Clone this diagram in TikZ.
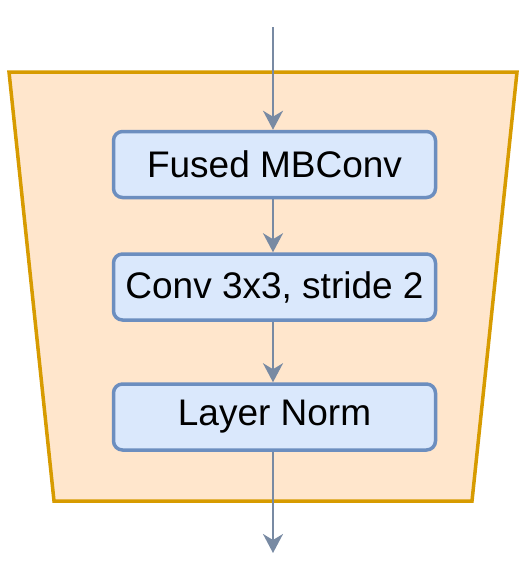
\documentclass[tikz,border=0pt]{standalone}
\usepackage{fontspec}
\setmainfont{Liberation Sans}
\usetikzlibrary{arrows.meta}
\definecolor{trapfill}{HTML}{FFE6CC}
\definecolor{trapline}{HTML}{D79B00}
\definecolor{boxfill}{HTML}{DAE8FC}
\definecolor{boxline}{HTML}{6C8EBF}
\definecolor{arrowc}{HTML}{788AA3}
\tikzset{
  blockbox/.style={draw=boxline, fill=boxfill, line width=3.5pt, rounded corners=9pt,
    minimum width=322pt, minimum height=66pt, inner sep=0pt,
    font=\fontsize{37}{42}\selectfont},
  flowarrow/.style={draw=arrowc, line width=2.2pt,
    -{Stealth[length=19pt, width=20pt, inset=6pt]}}
}
\begin{document}
\begin{tikzpicture}[x=1pt, y=-1pt]
\useasboundingbox (0,0) rectangle (521,562);
\draw[draw=trapline, fill=trapfill, line width=3.5pt, line join=miter]
  (9,72) -- (517,72) -- (472,501) -- (54,501) -- cycle;
\node[blockbox] (b1) at (274.5,164.5) {Fused MBConv};
\node[blockbox] (b2) at (274.5,287) {Conv 3x3, stride 2};
\node[blockbox] (b3) at (274.5,417) {Layer Norm};
\coordinate (in) at (273,27);
\coordinate (out) at (273,553);
\draw[flowarrow] (in) -- (b1.north -| in);
\draw[flowarrow] (b1.south -| in) -- (b2.north -| in);
\draw[flowarrow] (b2.south -| in) -- (b3.north -| in);
\draw[flowarrow] (b3.south -| in) -- (out);
\end{tikzpicture}
\end{document}
